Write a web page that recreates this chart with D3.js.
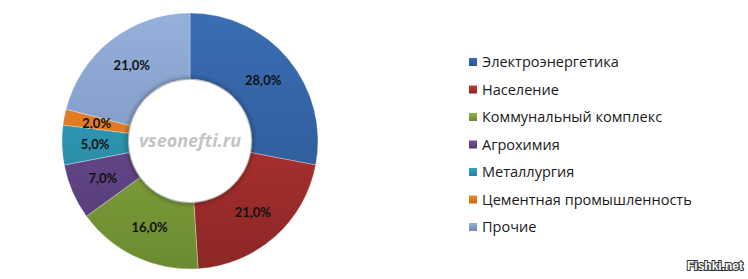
<!DOCTYPE html>
<html>
<head>
<meta charset="utf-8">
<script src="https://cdn.jsdelivr.net/npm/d3@7"></script>
<style>
  body { margin: 0; background: #fff; }
  svg { display: block; }
</style>
</head>
<body>
<div id="chart"></div>
<script>
const categories = ["Электроэнергетика", "Население", "Коммунальный комплекс", "Агрохимия", "Металлургия", "Цементная промышленность", "Прочие"]
const shares = [28, 21, 16, 7, 5, 2, 21]
const colorsTop = ["#3a6db3", "#c03a38", "#93b548", "#74529e", "#33a3bf", "#f08a2a", "#95b0da"]
const colorsBottom = ["#2b5690", "#8c2625", "#6c8a30", "#523a72", "#25809a", "#c8681a", "#7289b8"]

const width = 748, height = 279
const cx = 190, cy = 141
const outerR = 128, innerR = 62

const svg = d3.select("#chart").append("svg")
    .attr("width", width)
    .attr("height", height)

const defs = svg.append("defs")
categories.forEach((c, i) => {
    const grad = defs.append("linearGradient")
        .attr("id", "g" + i)
        .attr("gradientUnits", "userSpaceOnUse")
        .attr("x1", 0).attr("y1", -outerR).attr("x2", 0).attr("y2", outerR)
    grad.append("stop").attr("offset", "0%").attr("stop-color", colorsTop[i])
    grad.append("stop").attr("offset", "100%").attr("stop-color", colorsBottom[i])
    // small gradient for the legend keys
    const lg = defs.append("linearGradient")
        .attr("id", "lg" + i)
        .attr("x1", 0).attr("y1", 0).attr("x2", 0).attr("y2", 1)
    lg.append("stop").attr("offset", "0%").attr("stop-color", colorsTop[i])
    lg.append("stop").attr("offset", "100%").attr("stop-color", colorsBottom[i])
})
const blur = defs.append("filter").attr("id", "soft").attr("x", "-20%").attr("y", "-20%").attr("width", "140%").attr("height", "140%")
blur.append("feGaussianBlur").attr("stdDeviation", 2.5)

const pie = d3.pie().sort(null).value(d => d)
const arcs = pie(shares)
const arc = d3.arc().innerRadius(innerR).outerRadius(outerR)
const labelArc = d3.arc().innerRadius(95).outerRadius(95)

const g = svg.append("g").attr("transform", `translate(${cx},${cy})`)

g.selectAll("path.slice")
    .data(arcs)
    .enter()
    .append("path")
    .attr("class", "slice")
    .attr("d", arc)
    .attr("fill", (d, i) => `url(#g${i})`)
    .attr("stroke", "#ffffff")
    .attr("stroke-opacity", 0.5)
    .attr("stroke-width", 0.6)

// soft shadow into the hole
g.append("circle").attr("r", innerR + 1).attr("fill", "#000").attr("opacity", 0.35).attr("filter", "url(#soft)")
g.append("circle").attr("r", innerR - 1).attr("fill", "#fff")

g.selectAll("text.val")
    .data(arcs)
    .enter()
    .append("text")
    .attr("class", "val")
    .attr("transform", d => `translate(${labelArc.centroid(d)})`)
    .attr("text-anchor", "middle")
    .attr("dy", "0.35em")
    .style("font-family", "Lato, 'Open Sans', sans-serif")
    .style("font-weight", "bold")
    .style("font-size", "13px")
    .attr("fill", "#111")
    .text(d => d.data.toFixed(1).replace(".", ",") + "%")

g.append("text")
    .attr("text-anchor", "middle")
    .attr("dy", "0.35em")
    .style("font-family", "'Open Sans', sans-serif")
    .style("font-weight", "bold")
    .style("font-style", "italic")
    .style("font-size", "18px")
    .attr("fill", "#c4c4c4")
    .text("vseonefti.ru")

const legend = svg.append("g").attr("transform", "translate(469,62)")
const row = legend.selectAll("g")
    .data(categories)
    .enter()
    .append("g")
    .attr("transform", (d, i) => `translate(0,${i * 27.5})`)
row.append("rect")
    .attr("x", 0).attr("y", -4)
    .attr("width", 8).attr("height", 8)
    .attr("fill", (d, i) => `url(#lg${i})`)
row.append("text")
    .attr("x", 13)
    .attr("dy", "0.35em")
    .style("font-family", "'Open Sans', sans-serif")
    .style("font-size", "14.5px")
    .attr("fill", "#1a1a1a")
    .text(d => d)

svg.append("text")
    .attr("x", 743).attr("y", 270)
    .attr("text-anchor", "end")
    .style("font-family", "'Liberation Sans', Arial, sans-serif")
    .style("font-weight", "bold")
    .style("font-size", "12px")
    .attr("fill", "#fff")
    .attr("stroke", "#333")
    .attr("stroke-width", 2)
    .attr("paint-order", "stroke")
    .text("Fishki.net")
</script>
</body>
</html>
